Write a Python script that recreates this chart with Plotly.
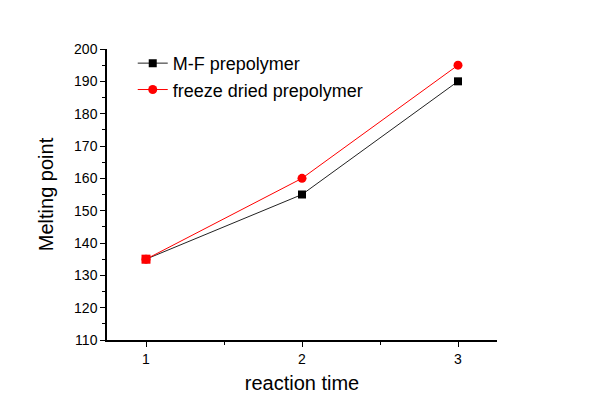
import plotly.graph_objects as go

reaction_time = [1, 2, 3]
mf_prepolymer = [135, 155, 190]
freeze_dried = [135, 160, 195]

fig = go.Figure()
fig.add_trace(go.Scatter(
    x=reaction_time, y=mf_prepolymer, name="M-F prepolymer",
    mode="lines+markers",
    line=dict(color="#222222", width=1),
    marker=dict(symbol="square", size=8, color="black"),
))
fig.add_trace(go.Scatter(
    x=reaction_time, y=freeze_dried, name="freeze dried prepolymer",
    mode="lines+markers",
    line=dict(color="red", width=1),
    marker=dict(symbol="circle", size=9, color="red"),
))
# overlapping first point appears as a red square in the original
fig.add_trace(go.Scatter(
    x=reaction_time[:1], y=freeze_dried[:1], mode="markers", showlegend=False,
    marker=dict(symbol="square", size=9, color="red"), hoverinfo="skip",
))

axis_common = dict(
    showline=True, linecolor="black", linewidth=1.5,
    ticks="outside", ticklen=5, tickwidth=1, tickcolor="black",
    showgrid=False, zeroline=False, mirror=False, automargin=False,
    tickfont=dict(family="Arial", size=14, color="black"),
)
fig.update_xaxes(
    range=[0.75, 3.25], tickvals=reaction_time, ticktext=["1", "2", "3"],
    minor=dict(tickvals=[1.5, 2.5], ticks="outside", ticklen=3, tickcolor="black"),
    title=dict(text="reaction time", font=dict(family="Arial", size=20, color="black"), standoff=10),
    **axis_common,
)
fig.update_yaxes(
    range=[110, 200], dtick=10,
    minor=dict(dtick=5, ticks="outside", ticklen=3, tickcolor="black"),
    title=dict(text="Melting point", font=dict(family="Arial", size=20, color="black"), standoff=15),
    **axis_common,
)
fig.update_layout(
    width=606, height=409,
    margin=dict(l=99, r=117, t=41, b=77),
    plot_bgcolor="white", paper_bgcolor="white",
    showlegend=True,
    legend=dict(x=0.066, y=1.014, xanchor="left", yanchor="top",
                font=dict(family="Arial", size=18, color="black"),
                bgcolor="rgba(0,0,0,0)", tracegroupgap=0, itemwidth=30),
)
fig.write_html("out.html")
